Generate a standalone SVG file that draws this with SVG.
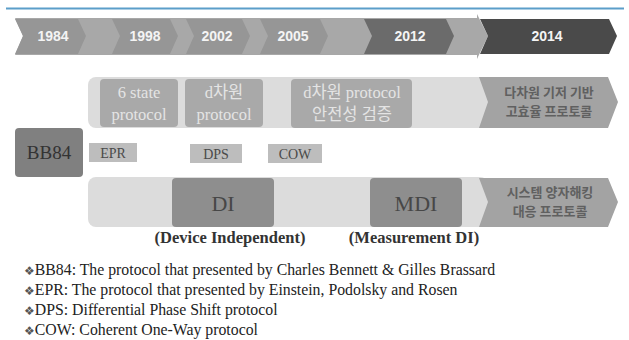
<svg xmlns="http://www.w3.org/2000/svg" width="629" height="340" viewBox="0 0 629 340">
<style>
.yr{font-family:"Liberation Sans","DejaVu Sans",sans-serif;font-size:14px;font-weight:bold;fill:#f4f4f4;text-anchor:middle}
.sf{font-family:"Liberation Serif","Noto Sans CJK KR",serif;text-anchor:middle}
.lt{fill:#e4e4e4;font-size:16.5px}
.kr{font-family:"Noto Sans CJK KR","Liberation Sans",sans-serif;font-size:13px;font-weight:bold;fill:#606060;text-anchor:middle}
.small{fill:#bdbdbd}
.sm{font-size:14px;fill:#4a4a4a}
.band{fill:#dcdcdc}
.box{fill:#a9a9a9}
.lbl{font-family:"Liberation Serif",serif;font-size:16.5px;font-weight:bold;fill:#333;text-anchor:middle}
.fn{font-family:"Liberation Serif","DejaVu Serif",serif;font-size:15.8px;fill:#222}
.dia{font-family:"DejaVu Sans",sans-serif;font-size:12px;fill:#555}
</style>
<rect width="629" height="340" fill="#fff"/>
<line x1="6" y1="8.5" x2="624" y2="8.5" stroke="#5b9ec9" stroke-width="2"/>
<g id="timeline">
  <path d="M15,18 H477 V14 L488,36 L477,59 V55 H15 L23,36 Z" fill="#a8a8a8"/>
  <path d="M15,19 H78 L86,36 L78,54 H15 L23,36 Z" fill="#969696"/>
  <text class="yr" x="53" y="41">1984</text>
  <path d="M112,19 H170 L178,36 L170,54 H112 L120,36 Z" fill="#969696"/>
  <text class="yr" x="145" y="41">1998</text>
  <path d="M186,19 H242 L250,36 L242,54 H186 L194,36 Z" fill="#969696"/>
  <text class="yr" x="217" y="41">2002</text>
  <path d="M260,19 H320 L328,36 L320,54 H260 L268,36 Z" fill="#969696"/>
  <text class="yr" x="293" y="41">2005</text>
  <path d="M364,19 H446 L454,36 L446,54 H364 L372,36 Z" fill="#6b6b6b"/>
  <text class="yr" x="410" y="41">2012</text>
  <path d="M480,19 H609 L617,36 L609,54 H480 L488,36 Z" fill="#4a4a4a"/>
  <text class="yr" x="547" y="41">2014</text>
</g>
<g id="row1">
  <rect class="band" x="88" y="77" width="400" height="51" rx="8"/>
  <g id="six-state">
    <rect class="box" x="100" y="79" width="78" height="48" rx="4"/>
    <text class="sf lt" x="139" y="98">6 state</text>
    <text class="sf lt" x="139" y="120">protocol</text>
  </g>
  <g id="d-dim">
    <rect class="box" x="185" y="79" width="78" height="48" rx="4"/>
    <text class="sf lt" x="224" y="98">d차원</text>
    <text class="sf lt" x="224" y="120">protocol</text>
  </g>
  <g id="d-dim-sec">
    <rect class="box" x="291" y="79" width="121" height="49" rx="4"/>
    <text class="sf lt" x="352" y="98">d차원 protocol</text>
    <text class="sf lt" x="352" y="120">안전성 검증</text>
  </g>
  <g id="hd-proto">
    <path d="M479,77 H608 L618,102 L608,128 H479 L488,102 Z" fill="#a3a3a3"/>
    <text class="kr" x="549" y="97">다차원 기저 기반</text>
    <text class="kr" x="549" y="116">고효율 프로토콜</text>
  </g>
</g>
<g id="bb84">
  <rect x="15" y="128" width="68" height="49" rx="4" fill="#808080"/>
  <text class="sf" x="49" y="159" font-size="19" fill="#333">BB84</text>
</g>
<g id="epr">
  <rect class="small" x="89" y="143" width="48" height="19"/>
  <text class="sf sm" x="113" y="157.5">EPR</text>
</g>
<g id="dps">
  <rect class="small" x="190" y="144" width="52" height="19"/>
  <text class="sf sm" x="216" y="158.5">DPS</text>
</g>
<g id="cow">
  <rect class="small" x="268" y="144" width="54" height="19"/>
  <text class="sf sm" x="295" y="158.5">COW</text>
</g>
<g id="row2">
  <rect class="band" x="88" y="177" width="400" height="50" rx="8"/>
  <g id="di">
    <rect x="172" y="178" width="102" height="49" rx="4" fill="#8e8e8e"/>
    <text class="sf" x="223" y="211" font-size="22" fill="#474747">DI</text>
  </g>
  <g id="mdi">
    <rect x="370" y="178" width="92" height="49" rx="4" fill="#8e8e8e"/>
    <text class="sf" x="416" y="211" font-size="22" fill="#474747">MDI</text>
  </g>
  <g id="hack-proto">
    <path d="M479,178 H608 L618,202 L608,227 H479 L488,202 Z" fill="#a3a3a3"/>
    <text class="kr" x="550" y="197">시스템 양자해킹</text>
    <text class="kr" x="550" y="216">대응 프로토콜</text>
  </g>
  <text class="lbl" x="230" y="243">(Device Independent)</text>
  <text class="lbl" x="414" y="243">(Measurement DI)</text>
</g>
<g id="connectors"></g>
<g id="notes">
  <text class="fn" x="24" y="275"><tspan class="dia">❖</tspan>BB84: The protocol that presented by Charles Bennett &amp; Gilles Brassard</text>
  <text class="fn" x="24" y="295"><tspan class="dia">❖</tspan>EPR: The protocol that presented by Einstein, Podolsky and Rosen</text>
  <text class="fn" x="24" y="315"><tspan class="dia">❖</tspan>DPS: Differential Phase Shift protocol</text>
  <text class="fn" x="24" y="335"><tspan class="dia">❖</tspan>COW: Coherent One-Way protocol</text>
</g>
</svg>
